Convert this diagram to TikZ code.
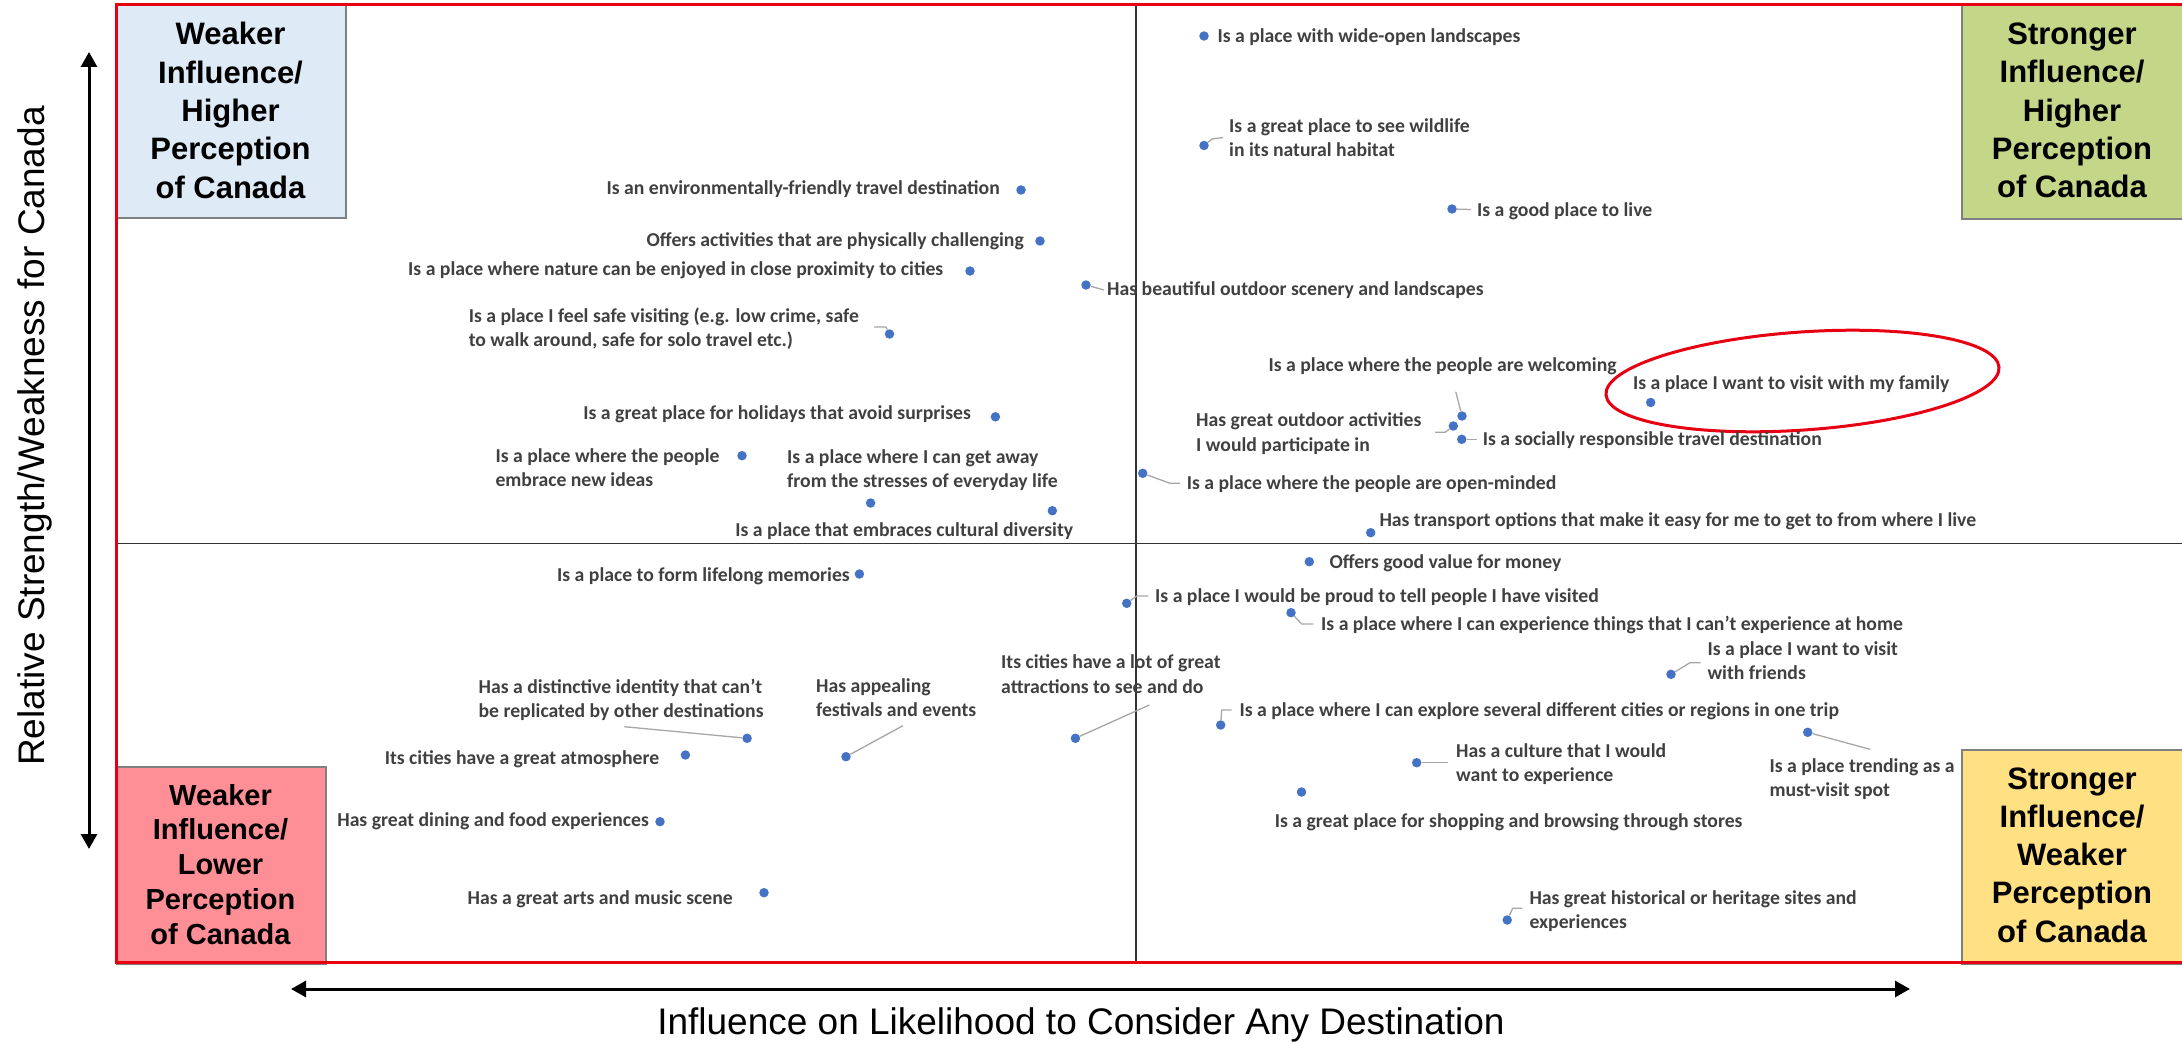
\documentclass[tikz,border=0pt]{standalone}
\usepackage{fontspec}
\newfontfamily\calib{Carlito}
\newfontfamily\arialf{Liberation Sans}
\usetikzlibrary{arrows.meta}
\definecolor{lblgray}{RGB}{64,64,64}
\definecolor{dotblue}{RGB}{68,114,196}
\definecolor{leadgray}{RGB}{166,166,166}
\definecolor{framered}{RGB}{230,0,18}
\definecolor{qblue}{RGB}{222,235,247}
\definecolor{qgreen}{RGB}{196,215,137}
\definecolor{qpink}{RGB}{255,143,150}
\definecolor{qyellow}{RGB}{255,224,131}
\definecolor{qborder}{RGB}{127,127,127}
\newcommand\twoline[2]{\begin{tabular}[t]{@{}l@{}}#1\\#2\end{tabular}}
\newcommand\quadlines[5]{\begin{tabular}[t]{@{}c@{}}#1\\#2\\#3\\#4\\#5\end{tabular}}
\tikzset{
 lab/.style={font=\calib\bfseries\fontsize{19.7}{24.3}\selectfont, text=lblgray, inner sep=0pt},
 lw/.style={lab, anchor=base west},
 le/.style={lab, anchor=base east},
 pdot/.style={circle, fill=dotblue, inner sep=0pt, minimum size=9.5pt},
 leader/.style={draw=leadgray, line width=1.3pt},
 qbox/.style={draw=qborder, line width=2pt, inner sep=0pt, anchor=north west},
 qtext/.style={font=\arialf\bfseries\fontsize{31}{38.3}\selectfont, inner sep=0pt, anchor=base},
 axarrow/.style={line width=3pt, {Triangle[length=15pt,width=16pt]}-{Triangle[length=15pt,width=16pt]}},
 atitle/.style={font=\arialf\fontsize{37}{44}\selectfont, inner sep=0pt, anchor=base},
 divider/.style={line width=1.6pt, draw=black!80},
}
\begin{document}
\begin{tikzpicture}[x=1pt,y=-1pt]
\useasboundingbox (0,0) rectangle (2182,1043);
% dividers
\coordinate (vt) at (1136,4); \coordinate (vb) at (1136,962);
\coordinate (hl) at (116,543.5); \coordinate (hr) at (2182,543.5);
\draw[divider] (vt) -- (vb);
\draw[divider] (hl) -- (hr);
% quadrant boxes
\node[qbox, fill=qblue, minimum width=229pt, minimum height=213pt] (qtl) at (116,4) {};
\node[qbox, fill=qgreen, minimum width=229pt, minimum height=214pt] (qtr) at (1961,4) {};
\node[qbox, fill=qpink, minimum width=209pt, minimum height=197pt] (qbl) at (116,766) {};
\node[qbox, fill=qyellow, minimum width=229pt, minimum height=214pt] (qbr) at (1961,749) {};
\node[qtext] (ttl) at (230.5,45) {\quadlines{Weaker}{Influence/}{Higher}{Perception}{of Canada}};
\node[qtext] (ttr) at (2072,44.5) {\quadlines{Stronger}{Influence/}{Higher}{Perception}{of Canada}};
\node[qtext, font=\arialf\bfseries\fontsize{29}{34.8}\selectfont] (tbl) at (220.5,805) {\quadlines{Weaker}{Influence/}{Lower}{Perception}{of Canada}};
\node[qtext] (tbr) at (2072,789) {\quadlines{Stronger}{Influence/}{Weaker}{Perception}{of Canada}};
% frame
\draw[draw=framered, line width=3pt] (116,4.3) rectangle (2195,962.7);
% highlight ellipse
\draw[draw=framered, line width=3pt, rotate around={4:(1802.5,381)}] (1802.5,381) ellipse [x radius=197, y radius=49];
% dots
\node[pdot] (d1) at (1021,190) {};
\node[pdot] (d2) at (1040,241) {};
\node[pdot] (d3) at (970,271) {};
\node[pdot] (d4) at (1086,285) {};
\node[pdot] (d5) at (889.5,334) {};
\node[pdot] (d6) at (995.4,416.8) {};
\node[pdot] (d7) at (742,455.7) {};
\node[pdot] (d8) at (870.6,503) {};
\node[pdot] (d9) at (1052.3,510.7) {};
\node[pdot] (d10) at (1204,36) {};
\node[pdot] (d11) at (1204,145.5) {};
\node[pdot] (d12) at (1452,209) {};
\node[pdot] (d13) at (1462,416) {};
\node[pdot] (d14) at (1650.7,402.5) {};
\node[pdot] (d15) at (1453.3,426) {};
\node[pdot] (d16) at (1461.7,439.3) {};
\node[pdot] (d17) at (1142.7,473.3) {};
\node[pdot] (d18) at (1370.7,532.7) {};
\node[pdot] (d19) at (859.4,574) {};
\node[pdot] (d20) at (747.1,738.3) {};
\node[pdot] (d21) at (846,756.7) {};
\node[pdot] (d22) at (1075.4,738.3) {};
\node[pdot] (d23) at (685.4,755) {};
\node[pdot] (d24) at (660,821.7) {};
\node[pdot] (d25) at (764,892.7) {};
\node[pdot] (d26) at (1309.3,561.7) {};
\node[pdot] (d27) at (1126.7,603.3) {};
\node[pdot] (d28) at (1291,612.7) {};
\node[pdot] (d29) at (1671,674.3) {};
\node[pdot] (d30) at (1220.7,725) {};
\node[pdot] (d31) at (1807.7,732.3) {};
\node[pdot] (d32) at (1416.7,762.7) {};
\node[pdot] (d33) at (1301.5,792) {};
\node[pdot] (d34) at (1507.2,920) {};
% leader ends
\coordinate (e4) at (1104,290);
\coordinate (c5) at (886,327); \coordinate (e5) at (874,327);
\coordinate (c11) at (1212,139); \coordinate (e11) at (1223,137.5);
\coordinate (e12) at (1471,209.5);
\coordinate (e13) at (1455.7,391.7);
\coordinate (c15) at (1445,432.3); \coordinate (e15) at (1435,432.3);
\coordinate (e16) at (1476.7,439.3);
\coordinate (c17) at (1170,483.3); \coordinate (e17) at (1180,483.3);
\coordinate (e20) at (624.3,726.7);
\coordinate (e21) at (902.9,725.7);
\coordinate (e22) at (1149.3,705);
\coordinate (c27) at (1136.7,596); \coordinate (e27) at (1148.3,596);
\coordinate (c28) at (1301.7,624); \coordinate (e28) at (1313.3,624);
\coordinate (c29) at (1690,662.7); \coordinate (e29) at (1700.7,662.7);
\coordinate (c30) at (1221.7,710); \coordinate (e30) at (1231.7,710);
\coordinate (e31) at (1870,749.3);
\coordinate (e32) at (1448.3,762.7);
\coordinate (c34) at (1512.7,908.3); \coordinate (e34) at (1522.4,908.3);
\draw[leader] (d4) -- (e4);
\draw[leader] (d5) -- (c5) -- (e5);
\draw[leader] (d11) -- (c11) -- (e11);
\draw[leader] (d12) -- (e12);
\draw[leader] (d13) -- (e13);
\draw[leader] (d15) -- (c15) -- (e15);
\draw[leader] (d16) -- (e16);
\draw[leader] (d17) -- (c17) -- (e17);
\draw[leader] (d20) -- (e20);
\draw[leader] (d21) -- (e21);
\draw[leader] (d22) -- (e22);
\draw[leader] (d27) -- (c27) -- (e27);
\draw[leader] (d28) -- (c28) -- (e28);
\draw[leader] (d29) -- (c29) -- (e29);
\draw[leader] (d30) -- (c30) -- (e30);
\draw[leader] (d31) -- (e31);
\draw[leader] (d32) -- (e32);
\draw[leader] (d34) -- (c34) -- (e34);
% labels
\node[le] (t1) at (1000,195) {Is an environmentally-friendly travel destination};
\node[le] (t2) at (1024,246.5) {Offers activities that are physically challenging};
\node[le] (t3) at (943.5,276) {Is a place where nature can be enjoyed in close proximity to cities};
\node[lw] (t4) at (1107,295.5) {Has beautiful outdoor scenery and landscapes};
\node[lw] (t5) at (468.6,322.2) {\twoline{Is a place I feel safe visiting (e.g. low crime, safe}{to walk around, safe for solo travel etc.)}};
\node[le] (t6) at (971,419) {Is a great place for holidays that avoid surprises};
\node[lw] (t7) at (495.3,462.2) {\twoline{Is a place where the people}{embrace new ideas}};
\node[lw] (t8) at (787,463.5) {\twoline{Is a place where I can get away}{from the stresses of everyday life}};
\node[lw] (t9) at (735.2,536) {Is a place that embraces cultural diversity};
\node[lw] (t10) at (1217.3,42.7) {Is a place with wide-open landscapes};
\node[lw] (t11) at (1229,132.7) {\twoline{Is a great place to see wildlife}{in its natural habitat}};
\node[lw] (t12) at (1476.8,216.5) {Is a good place to live};
\node[lw] (t13) at (1268.4,371.5) {Is a place where the people are welcoming};
\node[lw] (t14) at (1632.8,389.5) {Is a place I want to visit with my family};
\node[lw] (t15) at (1196,426.7) {\twoline{Has great outdoor activities}{I would participate in}};
\node[lw] (t16) at (1482.7,445) {Is a socially responsible travel destination};
\node[lw] (t17) at (1186.7,489.3) {Is a place where the people are open-minded};
\node[lw] (t18) at (1379.3,526.7) {Has transport options that make it easy for me to get to from where I live};
\node[le] (t19) at (850,581.5) {Is a place to form lifelong memories};
\node[lw] (t20) at (478.4,693.2) {\twoline{Has a distinctive identity that can’t}{be replicated by other destinations}};
\node[lw] (t21) at (815.9,692.2) {\twoline{Has appealing}{festivals and events}};
\node[lw] (t22) at (1001,668.8) {\twoline{Its cities have a lot of great}{attractions to see and do}};
\node[le] (t23) at (659.4,764) {Its cities have a great atmosphere};
\node[le] (t24) at (649,826.5) {Has great dining and food experiences};
\node[le] (t25) at (733,904) {Has a great arts and music scene};
\node[lw] (t26) at (1329.3,568.3) {Offers good value for money};
\node[lw] (t27) at (1155,602.7) {Is a place I would be proud to tell people I have visited};
\node[lw] (t28) at (1321,630) {Is a place where I can experience things that I can’t experience at home};
\node[lw] (t29) at (1707.3,655.5) {\twoline{Is a place I want to visit}{with friends}};
\node[lw] (t30) at (1239.3,716) {Is a place where I can explore several different cities or regions in one trip};
\node[lw] (t31) at (1769.3,772.5) {\twoline{Is a place trending as a}{must-visit spot}};
\node[lw] (t32) at (1456,757) {\twoline{Has a culture that I would}{want to experience}};
\node[lw] (t33) at (1274.6,827.3) {Is a great place for shopping and browsing through stores};
\node[lw] (t34) at (1529.3,904) {\twoline{Has great historical or heritage sites and}{experiences}};
% axes
\coordinate (ya) at (89,52); \coordinate (yb) at (89,849);
\coordinate (xa) at (291,989); \coordinate (xb) at (1910,989);
\draw[axarrow] (yb) -- (ya);
\draw[axarrow] (xa) -- (xb);
\node[atitle, rotate=90] (ytitle) at (44.5,436) {Relative Strength/Weakness for Canada};
\node[atitle] (xtitle) at (1081,1034) {Influence on Likelihood to Consider Any Destination};
\end{tikzpicture}
\end{document}
